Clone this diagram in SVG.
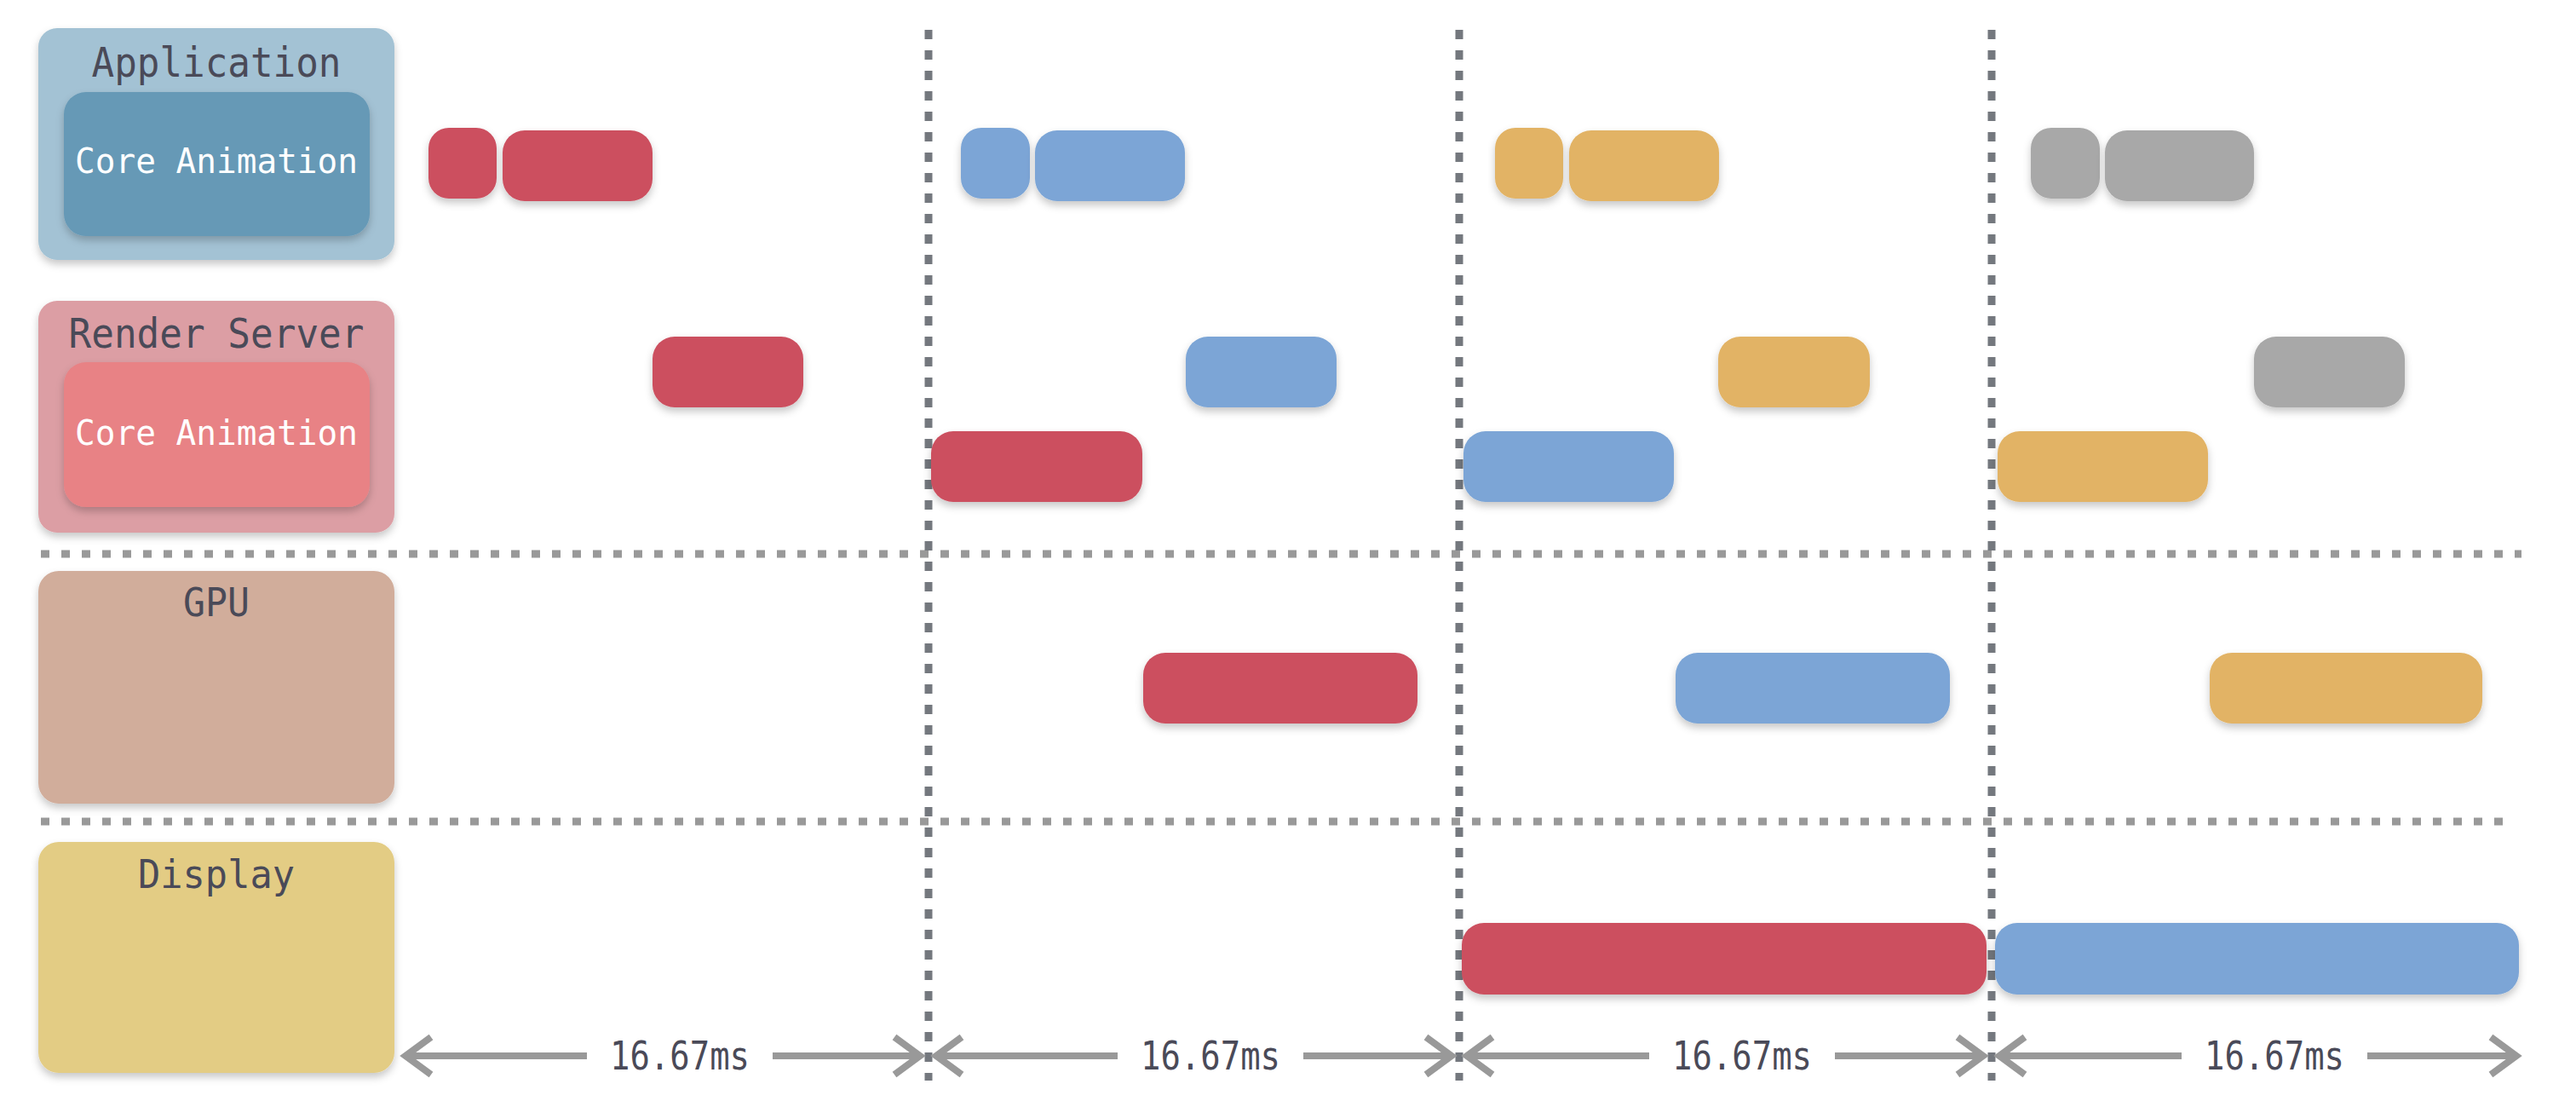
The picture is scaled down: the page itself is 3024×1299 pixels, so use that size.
<svg xmlns="http://www.w3.org/2000/svg" width="3024" height="1299" viewBox="0 0 3024 1299">
<defs>
<filter id="sh" x="-10%" y="-20%" width="120%" height="160%">
<feDropShadow dx="0" dy="5" stdDeviation="5" flood-color="#000" flood-opacity="0.22"/>
</filter>
<style>
.lbl{font-family:"DejaVu Sans Mono","Liberation Mono",monospace;fill:#4a4a58;text-anchor:middle}
.ca{font-family:"DejaVu Sans Mono","Liberation Mono",monospace;fill:#ffffff;text-anchor:middle}
.ms{font-family:"DejaVu Sans Mono","Liberation Mono",monospace;fill:#4a4a58;font-size:46px;text-anchor:middle}
.red{fill:#cc4f5f}
.blue{fill:#7ba5d6}
.org{fill:#e2b365}
.gray{fill:#a8a8a8}
.vd{stroke:#74787e;stroke-width:9;stroke-dasharray:11 13;fill:none}
.hd{stroke:#999999;stroke-width:9;stroke-dasharray:10 14;fill:none}
.ar{stroke:#999999;stroke-width:8;fill:none}
</style>
</defs>
<rect width="3024" height="1299" fill="#ffffff"/>

<g id="grid">
<line class="hd" x1="48" y1="650" x2="2960" y2="650"/>
<line class="hd" x1="48" y1="964" x2="2952" y2="964"/>
<line class="vd" x1="1090" y1="35" x2="1090" y2="1268"/>
<line class="vd" x1="1713" y1="35" x2="1713" y2="1268"/>
<line class="vd" x1="2338" y1="35" x2="2338" y2="1268"/>
</g>

<g id="application">
<rect x="45" y="33" width="418" height="272" rx="22" fill="#a3c2d4" filter="url(#sh)"/>
<rect x="75" y="108" width="359" height="169" rx="26" fill="#6699b6" filter="url(#sh)"/>
<text class="lbl" x="254" y="90" font-size="48" textLength="293" lengthAdjust="spacingAndGlyphs">Application</text>
<text class="ca" x="254" y="203" font-size="41" textLength="332" lengthAdjust="spacingAndGlyphs">Core Animation</text>
</g>

<g id="render-server">
<rect x="45" y="353" width="418" height="272" rx="22" fill="#dc9ea4" filter="url(#sh)"/>
<rect x="75" y="425" width="359" height="170" rx="26" fill="#e88285" filter="url(#sh)"/>
<text class="lbl" x="254" y="408" font-size="48" textLength="347" lengthAdjust="spacingAndGlyphs">Render Server</text>
<text class="ca" x="254" y="522" font-size="41" textLength="332" lengthAdjust="spacingAndGlyphs">Core Animation</text>
</g>

<g id="gpu">
<rect x="45" y="670" width="418" height="273" rx="24" fill="#d1ad9b" filter="url(#sh)"/>
<text class="lbl" x="254" y="723" font-size="46" textLength="78" lengthAdjust="spacingAndGlyphs">GPU</text>
</g>

<g id="display">
<rect x="45" y="988" width="418" height="271" rx="24" fill="#e3cc84" filter="url(#sh)"/>
<text class="lbl" x="254" y="1042" font-size="47" textLength="184" lengthAdjust="spacingAndGlyphs">Display</text>
</g>

<g id="frame-red">
<rect class="red" x="503" y="150" width="80" height="83" rx="24" filter="url(#sh)"/>
<rect class="red" x="590" y="153" width="176" height="83" rx="26" filter="url(#sh)"/>
<rect class="red" x="766" y="395" width="177" height="83" rx="26" filter="url(#sh)"/>
<rect class="red" x="1093" y="506" width="248" height="83" rx="26" filter="url(#sh)"/>
<rect class="red" x="1342" y="766" width="322" height="83" rx="26" filter="url(#sh)"/>
<rect class="red" x="1716" y="1083" width="616" height="84" rx="26" filter="url(#sh)"/>
</g>

<g id="frame-blue">
<rect class="blue" x="1128" y="150" width="81" height="83" rx="24" filter="url(#sh)"/>
<rect class="blue" x="1215" y="153" width="176" height="83" rx="26" filter="url(#sh)"/>
<rect class="blue" x="1392" y="395" width="177" height="83" rx="26" filter="url(#sh)"/>
<rect class="blue" x="1718" y="506" width="247" height="83" rx="26" filter="url(#sh)"/>
<rect class="blue" x="1967" y="766" width="322" height="83" rx="26" filter="url(#sh)"/>
<rect class="blue" x="2342" y="1083" width="615" height="84" rx="26" filter="url(#sh)"/>
</g>

<g id="frame-orange">
<rect class="org" x="1755" y="150" width="80" height="83" rx="24" filter="url(#sh)"/>
<rect class="org" x="1842" y="153" width="176" height="83" rx="26" filter="url(#sh)"/>
<rect class="org" x="2017" y="395" width="178" height="83" rx="26" filter="url(#sh)"/>
<rect class="org" x="2345" y="506" width="247" height="83" rx="26" filter="url(#sh)"/>
<rect class="org" x="2594" y="766" width="320" height="83" rx="26" filter="url(#sh)"/>
</g>

<g id="frame-gray">
<rect class="gray" x="2384" y="150" width="81" height="83" rx="24" filter="url(#sh)"/>
<rect class="gray" x="2471" y="153" width="175" height="83" rx="26" filter="url(#sh)"/>
<rect class="gray" x="2646" y="395" width="177" height="83" rx="26" filter="url(#sh)"/>
</g>

<g id="connectors">
<path class="ar" d="M476 1239H689 M907 1239H1080 M506 1217L476 1239L506 1261 M1050 1217L1080 1239L1050 1261"/>
<path class="ar" d="M1099 1239H1312 M1530 1239H1704 M1129 1217L1099 1239L1129 1261 M1674 1217L1704 1239L1674 1261"/>
<path class="ar" d="M1722 1239H1936 M2154 1239H2328 M1752 1217L1722 1239L1752 1261 M2298 1217L2328 1239L2298 1261"/>
<path class="ar" d="M2347 1239H2561 M2779 1239H2954 M2377 1217L2347 1239L2377 1261 M2924 1217L2954 1239L2924 1261"/>
</g>

<g id="durations">
<text class="ms" x="798" y="1255" textLength="164" lengthAdjust="spacingAndGlyphs">16.67ms</text>
<text class="ms" x="1421" y="1255" textLength="164" lengthAdjust="spacingAndGlyphs">16.67ms</text>
<text class="ms" x="2045" y="1255" textLength="164" lengthAdjust="spacingAndGlyphs">16.67ms</text>
<text class="ms" x="2670" y="1255" textLength="164" lengthAdjust="spacingAndGlyphs">16.67ms</text>
</g>
</svg>
